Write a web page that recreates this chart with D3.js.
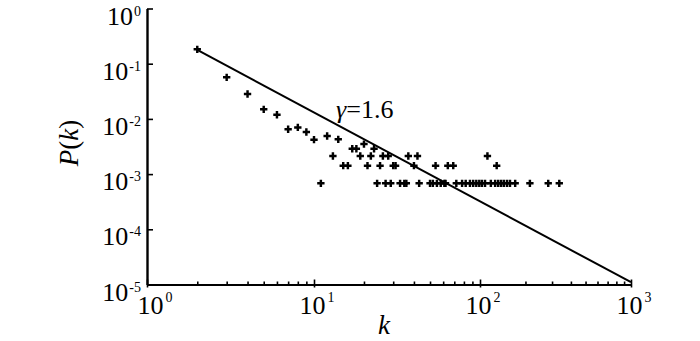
<!DOCTYPE html>
<html>
<head>
<meta charset="utf-8">
<script src="https://cdn.jsdelivr.net/npm/d3@7"></script>
<style>
  html, body { margin: 0; padding: 0; background: #fff; }
  svg { display: block; }
</style>
</head>
<body>
<svg id="chart" width="700" height="341"></svg>
<script>
// ---- data ----
const degreeK = [2, 3, 4, 5, 6, 7, 8, 9, 10, 11, 12, 13, 14, 15, 16, 17, 18, 19, 20,
  21, 22, 23, 24, 25, 26, 27, 28, 29, 30, 31, 33, 35, 36, 37, 40, 42, 43,
  50, 52, 54, 55, 58, 61, 62, 64, 69, 72, 78, 82, 87, 91, 95, 99, 103, 108,
  112, 118, 126, 129, 132, 138, 144, 151, 158, 171, 214, 283, 335];
const probP = [0.182, 0.0567, 0.0283, 0.0149, 0.0119, 0.0065, 0.0070, 0.0058, 0.0042, 0.00068,
  0.0049, 0.00213, 0.00427, 0.00142, 0.00142, 0.00288, 0.00288, 0.00213, 0.0035,
  0.00142, 0.00213, 0.00288, 0.00068, 0.00142, 0.00213, 0.00068, 0.00213, 0.00068, 0.00142, 0.00142,
  0.00068, 0.00068, 0.00068, 0.00213, 0.00142, 0.00213, 0.00068,
  0.00068, 0.00068, 0.00142, 0.00068, 0.00068, 0.00068, 0.00068, 0.00142, 0.00142,
  0.00068, 0.00068, 0.00068, 0.00068, 0.00068, 0.00068, 0.00068, 0.00068, 0.00068,
  0.00213, 0.00068, 0.00068, 0.00142, 0.00068, 0.00068, 0.00068, 0.00068, 0.00068,
  0.00068, 0.00068, 0.00068, 0.00068];
// fitted power-law line end points (gamma = 1.6)
const fitK = [2, 1000];
const fitP = [0.178, 1.1e-5];
const fitLabel = "=1.6";
const xMajorTicks = [1, 10, 100, 1000];
const xMajorExp = ["0", "1", "2", "3"];
const yMajorTicks = [1, 1e-1, 1e-2, 1e-3, 1e-4, 1e-5];
const yMajorExp = ["0", "-1", "-2", "-3", "-4", "-5"];
const xMinorTicks = [2,3,4,5,6,7,8,9,20,30,40,50,60,70,80,90,200,300,400,500,600,700,800,900];

// ---- scales ----
const x = d3.scaleLog().domain([1, 10, 100, 1000]).range([147, 314, 480, 631]);
const y = d3.scaleLog().domain([1, 1e-5]).range([8.5, 284.5]);

const svg = d3.select("#chart");
const FONT = "Liberation Serif";
const FS = 26, SUP = 14;

// ---- axes ----
const xAxis = svg.append("g").attr("transform", `translate(0,${y(1e-5)})`)
  .call(d3.axisBottom(x).tickValues(xMajorTicks).tickSizeInner(-5).tickSizeOuter(0).tickFormat(""));
xAxis.select(".domain").attr("stroke-width", 2);
xAxis.selectAll(".tick line").attr("y1", 3).attr("y2", -5).attr("stroke-width", 1.6);

const xMinor = svg.append("g").attr("transform", `translate(0,${y(1e-5)})`)
  .call(d3.axisBottom(x).tickValues(xMinorTicks).tickSizeInner(-3).tickSizeOuter(0).tickFormat(""));
xMinor.select(".domain").remove();
xMinor.selectAll(".tick line").attr("stroke-width", 1.6);

const yAxis = svg.append("g").attr("transform", `translate(${x(1)},0)`)
  .call(d3.axisLeft(y).tickValues(yMajorTicks).tickSizeInner(-6).tickSizeOuter(0).tickFormat(""));
yAxis.select(".domain").attr("stroke-width", 2.4);
yAxis.selectAll(".tick line").attr("stroke-width", 1.6);

// ---- tick labels ----
xMajorTicks.forEach((v, i) => {
  const t = svg.append("text").attr("x", x(v) + (i === 0 ? 8 : 3)).attr("y", 314)
    .attr("text-anchor", "middle").attr("font-size", FS).attr("font-family", FONT).attr("fill", "#000");
  t.append("tspan").text("10");
  t.append("tspan").attr("font-size", SUP).attr("dy", -12).attr("dx", 2).text(xMajorExp[i]);
});
yMajorTicks.forEach((v, i) => {
  const t = svg.append("text").attr("x", 141).attr("y", y(v) + 16)
    .attr("text-anchor", "end").attr("font-size", FS).attr("font-family", FONT).attr("fill", "#000");
  t.append("tspan").text("10");
  t.append("tspan").attr("font-size", SUP).attr("dy", -9).attr("dx", 1).text(yMajorExp[i]);
});

// axis titles
svg.append("text").attr("x", 384).attr("y", 334).attr("text-anchor", "middle")
  .attr("font-size", 27).attr("font-family", FONT).attr("font-style", "italic").text("k");
const yt = svg.append("text").attr("transform", "translate(78,143) rotate(-90)")
  .attr("text-anchor", "middle").attr("font-size", 27).attr("font-family", FONT);
yt.append("tspan").attr("font-style", "italic").text("P");
yt.append("tspan").text("(");
yt.append("tspan").attr("font-style", "italic").text("k");
yt.append("tspan").text(")");

// ---- fitted line ----
svg.append("path")
  .datum(fitK.map((k, i) => [k, fitP[i]]))
  .attr("fill", "none").attr("stroke", "#000").attr("stroke-width", 2)
  .attr("d", d3.line().x(d => x(d[0])).y(d => y(d[1])));

const g = svg.append("text").attr("x", 336).attr("y", 118).attr("font-size", 26).attr("font-family", FONT);
g.append("tspan").attr("font-style", "italic").text("γ");
g.append("tspan").text(fitLabel);

// ---- points ----
svg.append("g").selectAll("path")
  .data(degreeK.map((k, i) => [k, probP[i]]))
  .join("path")
  .attr("transform", d => `translate(${x(d[0])},${y(d[1])})`)
  .attr("d", d3.symbol(d3.symbolCross, 30))
  .attr("fill", "#000");
</script>
</body>
</html>
